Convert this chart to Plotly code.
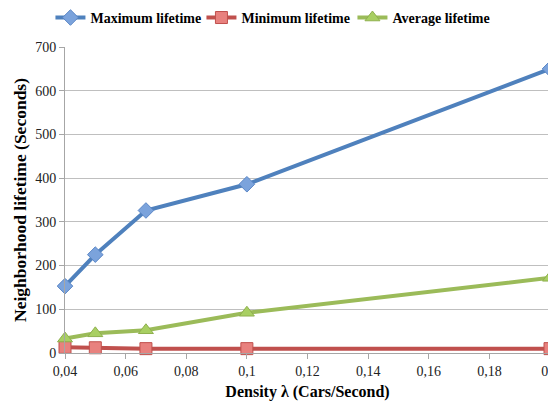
import plotly.graph_objects as go

density = [0.04, 0.05, 0.0667, 0.1, 0.2]
max_lifetime = [153, 225, 326, 386, 650]
min_lifetime = [13, 12, 10, 10, 10]
avg_lifetime = [33, 45, 52, 92, 172]

x_tickvals = [0.04, 0.06, 0.08, 0.1, 0.12, 0.14, 0.16, 0.18, 0.2]
x_ticktext = ["0,04", "0,06", "0,08", "0,1", "0,12", "0,14", "0,16", "0,18", "0,2"]
y_tickvals = [0, 100, 200, 300, 400, 500, 600, 700]

series_names = ["Maximum lifetime", "Minimum lifetime", "Average lifetime"]

FONT = "Liberation Serif, Times New Roman, serif"

fig = go.Figure()
fig.add_trace(go.Scatter(
    x=density, y=max_lifetime, name=series_names[0], mode="lines+markers",
    line=dict(color="#4F81BD", width=4),
    marker=dict(symbol="diamond", size=12, color="#7BA3DC", line=dict(color="#5A86C6", width=1)),
))
fig.add_trace(go.Scatter(
    x=density, y=min_lifetime, name=series_names[1], mode="lines+markers",
    line=dict(color="#C0504D", width=4),
    marker=dict(symbol="square", size=12, color="#E8817E", line=dict(color="#C0504D", width=1)),
))
fig.add_trace(go.Scatter(
    x=density, y=avg_lifetime, name=series_names[2], mode="lines+markers",
    line=dict(color="#9BBB59", width=4),
    marker=dict(symbol="triangle-up", size=13, color="#A8CF62", line=dict(color="#8FB04E", width=1)),
))

fig.update_layout(
    width=548, height=400,
    margin=dict(l=57, r=6, t=39, b=55, autoexpand=False),
    paper_bgcolor="white", plot_bgcolor="white",
    font=dict(family=FONT, size=13, color="#222"),
    legend=dict(
        orientation="h", x=-0.03, xanchor="left", y=1.095, yanchor="middle",
        font=dict(family=FONT, size=14, color="black", weight="bold"),
        itemwidth=30, tracegroupgap=0, bgcolor="rgba(0,0,0,0)",
        entrywidth=106, entrywidthmode="pixels",
    ),
    xaxis=dict(
        range=[0.04, 0.2], tickvals=x_tickvals, ticktext=x_ticktext,
        showgrid=False, zeroline=False,
        showline=True, linecolor="#A6A6A6", linewidth=1,
        ticks="outside", ticklen=5, tickcolor="#A6A6A6",
        tickfont=dict(family=FONT, size=14, color="#222"),
        ticklabeloverflow="allow",
        title=dict(text="Density λ (Cars/Second)", font=dict(family=FONT, size=16, color="black", weight="bold"), standoff=8),
        automargin=False,
    ),
    yaxis=dict(
        range=[0, 700], tickvals=y_tickvals,
        showgrid=True, gridcolor="#BFBFBF", gridwidth=1, zeroline=False,
        showline=True, linecolor="#A6A6A6", linewidth=1,
        ticks="outside", ticklen=5, tickcolor="#A6A6A6",
        tickfont=dict(family=FONT, size=14, color="#222"),
        title=dict(text="Neighborhood lifetime (Seconds)", font=dict(family=FONT, size=17.5, color="black", weight="bold"), standoff=4),
        automargin=False,
    ),
)
for tr in fig.data:
    tr.cliponaxis = False

fig.write_html("out.html")
